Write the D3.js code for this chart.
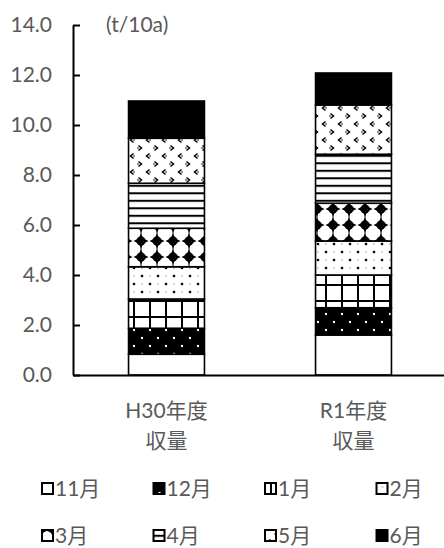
<!DOCTYPE html>
<html>
<head>
<meta charset="utf-8">
<script src="https://cdn.jsdelivr.net/npm/d3@7"></script>
<style>
  html, body { margin: 0; padding: 0; background: #fff; }
  svg { display: block; }
  text { font-family: Lato, "Noto Sans CJK JP", sans-serif; fill: #595959; }
</style>
</head>
<body>
<svg id="chart" width="444" height="548"></svg>
<script>
// Monthly harvest (t/10a) stacked per season
const categories = ["H30年度", "R1年度"];
const categorySub = ["収量", "収量"];
const months = ["11月", "12月", "1月", "2月", "3月", "4月", "5月", "6月"];
const valuesH30 = [0.83, 1.04, 1.17, 1.29, 1.54, 1.80, 1.80, 1.49];
const valuesR1  = [1.60, 1.09, 1.31, 1.36, 1.51, 1.96, 1.97, 1.28];
const yTicks = [0, 2, 4, 6, 8, 10, 12, 14];
const unitLabel = "(t/10a)";

const rows = categories.map((c, i) => {
  const src = i === 0 ? valuesH30 : valuesR1;
  const r = { category: c, sub: categorySub[i] };
  months.forEach((m, j) => { r[m] = src[j]; });
  return r;
});

const svg = d3.select("#chart");
const defs = svg.append("defs");

// --- fill patterns (anchored to the page) ---
function pat(id, w, h, x, y) {
  return defs.append("pattern").attr("id", id)
    .attr("patternUnits", "userSpaceOnUse")
    .attr("width", w).attr("height", h).attr("x", x).attr("y", y);
}
// 12月: white dots on black
{
  const p = pat("p12", 16, 16, 0, 0);
  p.append("rect").attr("width", 16).attr("height", 16).attr("fill", "#000");
  [[6, 10], [14, 2]].forEach(([cx, cy]) =>
    p.append("circle").attr("cx", cx).attr("cy", cy).attr("r", 1.2).attr("fill", "#fff"));
}
// 1月: grid
{
  const p = pat("p1", 16, 16, 0, 0);
  p.append("rect").attr("width", 16).attr("height", 16).attr("fill", "#fff");
  p.append("rect").attr("x", 5).attr("y", 0).attr("width", 2).attr("height", 16).attr("fill", "#000");
  p.append("rect").attr("x", 0).attr("y", 12).attr("width", 16).attr("height", 2).attr("fill", "#000");
}
// 2月: sparse dots
{
  const p = pat("p2", 16, 16, 0, 0);
  p.append("rect").attr("width", 16).attr("height", 16).attr("fill", "#fff");
  [[6, 12], [14, 4]].forEach(([cx, cy]) =>
    p.append("circle").attr("cx", cx).attr("cy", cy).attr("r", 1.3).attr("fill", "#000"));
  [[14, 12], [6, 4]].forEach(([cx, cy]) =>
    p.append("circle").attr("cx", cx).attr("cy", cy).attr("r", 0.6).attr("fill", "#444"));
}
// 3月: black four-pointed blobs joined by thin stems
{
  const p = pat("p3", 16, 16, 5, 9);
  p.append("rect").attr("width", 16).attr("height", 16).attr("fill", "#fff");
  p.append("rect").attr("x", 7.5).attr("y", 0).attr("width", 1).attr("height", 16).attr("fill", "#000");
  p.append("circle").attr("cx", 8).attr("cy", 8).attr("r", 4.6).attr("fill", "#000");
  p.append("path").attr("d", "M0.5,8 L5.5,5.5 L8,0.8 L10.5,5.5 L15.5,8 L10.5,10.5 L8,15.2 L5.5,10.5 Z")
    .attr("fill", "#000");
}
// 4月: horizontal stripes
{
  const p = pat("p4", 8, 7.5, 0, 162.3 % 7.5);
  p.append("rect").attr("width", 8).attr("height", 7.5).attr("fill", "#fff");
  p.append("rect").attr("width", 8).attr("height", 2).attr("fill", "#000");
}
// 5月: chevrons
{
  const p = pat("p5", 16, 16, 0, 0);
  p.append("rect").attr("width", 16).attr("height", 16).attr("fill", "#fff");
  p.append("path").attr("d", "M10.5,1.5 L13.5,4 L10.5,6.5")
    .attr("fill", "none").attr("stroke", "#000").attr("stroke-width", 1.5);
  p.append("circle").attr("cx", 10).attr("cy", 4).attr("r", 0.8).attr("fill", "#000");
  p.append("path").attr("d", "M5.5,9.5 L2.5,12 L5.5,14.5")
    .attr("fill", "none").attr("stroke", "#000").attr("stroke-width", 1.5);
  p.append("circle").attr("cx", 6).attr("cy", 12).attr("r", 0.8).attr("fill", "#000");
}

const fills = ["#fff", "url(#p12)", "url(#p1)", "url(#p2)", "url(#p3)", "url(#p4)", "url(#p5)", "#000"];

// --- scales ---
const x = d3.scaleBand().domain(categories).range([73, 447]).paddingInner(0.594).paddingOuter(0.297);
const y = d3.scaleLinear().domain([0, 14]).range([375, 25]);

const series = d3.stack().keys(months)(rows);

// --- bars ---
svg.append("g").selectAll("g").data(series).join("g")
  .attr("fill", (d, i) => fills[i])
  .selectAll("rect").data(d => d).join("rect")
  .attr("x", d => x(d.data.category))
  .attr("width", x.bandwidth())
  .attr("y", d => y(d[1]))
  .attr("height", d => y(d[0]) - y(d[1]))
  .attr("stroke", "#000").attr("stroke-width", 1.6);

// --- y axis ---
const yAxis = svg.append("g").attr("transform", "translate(73,0)")
  .call(d3.axisLeft(y).tickValues(yTicks).tickFormat(d3.format(".1f"))
    .tickSizeInner(-7).tickSizeOuter(0).tickPadding(21));
yAxis.select(".domain").attr("stroke", "#000").attr("stroke-width", 2);
yAxis.selectAll(".tick line").attr("stroke", "#000").attr("stroke-width", 2);
yAxis.selectAll(".tick text").attr("font-size", 21).attr("fill", "#595959")
  .attr("font-family", "Lato, sans-serif");

// --- x axis ---
const xAxis = svg.append("g").attr("transform", "translate(0,375)")
  .call(d3.axisBottom(x).tickSize(0).tickFormat(""));
xAxis.select(".domain").attr("stroke", "#000").attr("stroke-width", 2);
xAxis.selectAll(".tick text").remove();
xAxis.selectAll(".tick").each(function (c, i) {
  const t = d3.select(this).append("text").attr("text-anchor", "middle")
    .attr("font-size", 21).attr("fill", "#595959");
  t.append("tspan").attr("x", 0).attr("y", 43).text(c);
  t.append("tspan").attr("x", 0).attr("y", 73).text(categorySub[i]);
});

// unit label
svg.append("text").attr("x", 106).attr("y", 32).attr("font-size", 21).text(unitLabel);

// --- legend ---
const legendX = [42, 153.5, 265, 376.5];
const legendY = [483, 530];
const lg = svg.append("g").selectAll("g").data(months).join("g")
  .attr("transform", (d, i) => `translate(${legendX[i % 4]},${legendY[Math.floor(i / 4)]})`);
lg.append("rect").attr("width", 11).attr("height", 11)
  .attr("fill", (d, i) => fills[i]).attr("stroke", "#000").attr("stroke-width", 2);
lg.append("text").attr("x", 13).attr("y", 13).attr("font-size", 21).text(d => d);
</script>
</body>
</html>
